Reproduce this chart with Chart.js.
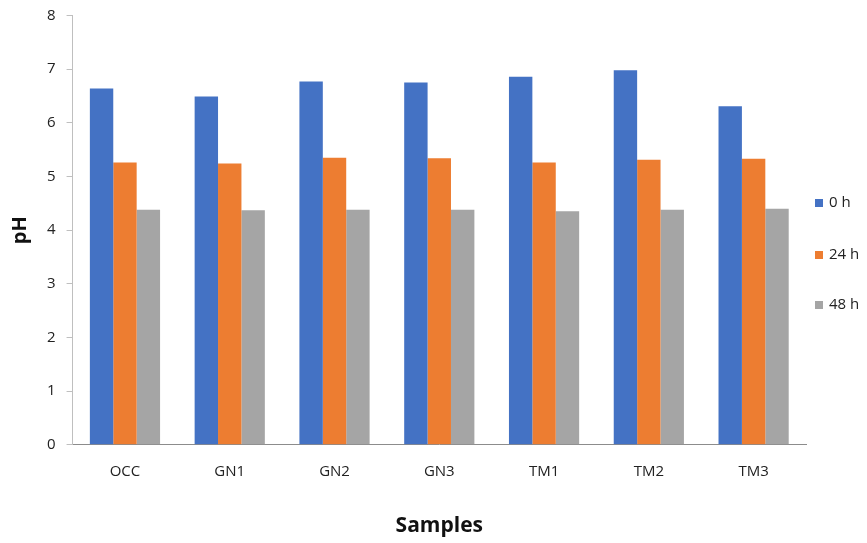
<!DOCTYPE html>
<html>
<head>
<meta charset="utf-8">
<script src="https://cdn.jsdelivr.net/npm/chart.js@4/dist/chart.umd.min.js"></script>
<style>
  html, body { margin: 0; padding: 0; background: #fff; }
  #wrap { width: 867px; height: 543px; }
</style>
</head>
<body>
<div id="wrap"><canvas id="phChart"></canvas></div>
<script>
const samples = ['OCC', 'GN1', 'GN2', 'GN3', 'TM1', 'TM2', 'TM3'];
const ph0h = [6.64, 6.49, 6.77, 6.75, 6.86, 6.98, 6.31];
const ph24h = [5.26, 5.24, 5.35, 5.34, 5.26, 5.31, 5.33];
const ph48h = [4.38, 4.37, 4.38, 4.38, 4.35, 4.38, 4.40];

const font = '"Open Sans", "Noto Sans", sans-serif';

// Legend on the right, items spaced out like the original (built-in one can't do this spacing)
const sideLegend = {
  id: 'sideLegend',
  afterDraw(chart) {
    const ctx = chart.ctx;
    const x = chart.chartArea.right + 9;
    const rows = [203, 255, 305];
    ctx.save();
    ctx.font = '15px ' + font;
    ctx.textBaseline = 'middle';
    chart.data.datasets.forEach((ds, i) => {
      ctx.fillStyle = ds.backgroundColor;
      ctx.fillRect(x, rows[i] - 4, 8, 8);
      ctx.fillStyle = '#222';
      ctx.fillText(ds.label, x + 14, rows[i]);
    });
    ctx.restore();
  },
};

new Chart(document.getElementById('phChart'), {
  type: 'bar',
  data: {
    labels: samples,
    datasets: [
      { label: '0 h', data: ph0h, backgroundColor: '#4472c4' },
      { label: '24 h', data: ph24h, backgroundColor: '#ed7d31' },
      { label: '48 h', data: ph48h, backgroundColor: '#a5a5a5' },
    ],
  },
  options: {
    responsive: true,
    maintainAspectRatio: false,
    animation: false,
    layout: { padding: { top: 5, right: 61, left: 4, bottom: 4 } },
    datasets: { bar: { categoryPercentage: 0.67, barPercentage: 1 } },
    scales: {
      x: {
        grid: { display: false },
        border: { display: true, color: '#8c8c8c', width: 1 },
        ticks: { color: '#222', font: { family: font, size: 15 }, padding: 10 },
        title: {
          display: true, text: 'Samples', color: '#111',
          font: { family: font, size: 21, weight: 'bold' }, padding: { top: 23, bottom: 0 },
        },
      },
      y: {
        min: 0, max: 8,
        ticks: { stepSize: 1, color: '#222', font: { family: font, size: 15, lineHeight: 0.6 }, padding: 11 },
        grid: { drawOnChartArea: false, drawTicks: true, tickLength: 6, color: '#bfbfbf' },
        border: { display: true, color: '#bfbfbf', width: 1 },
        title: {
          display: true, text: 'pH', color: '#111',
          font: { family: font, size: 20, weight: 'bold' }, padding: { bottom: 4 },
        },
      },
    },
    plugins: {
      legend: { display: false },
      tooltip: { enabled: false },
    },
  },
  plugins: [sideLegend],
});
</script>
</body>
</html>
